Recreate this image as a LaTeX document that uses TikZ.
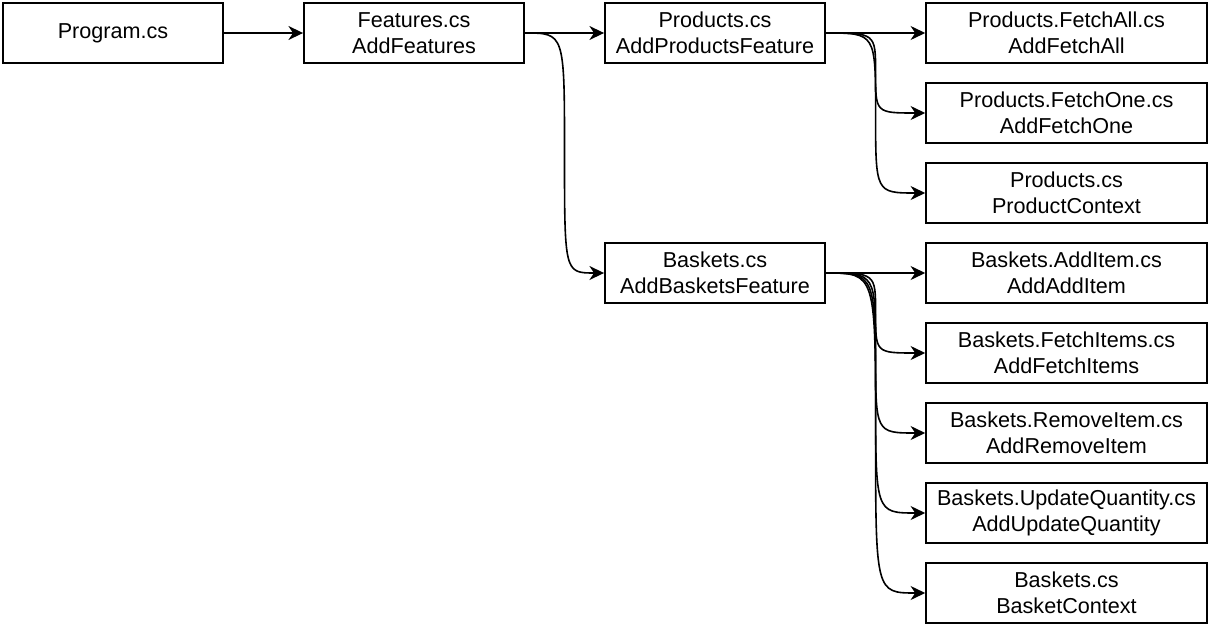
\documentclass[tikz,border=0pt]{standalone}
\usepackage{fontspec}
\setmainfont{Liberation Sans}
\usetikzlibrary{arrows.meta,calc}
\begin{document}
\begin{tikzpicture}[x=0.75pt, y=-0.75pt]
    \tikzstyle{box}=[draw, line width=1.4pt, minimum width=165pt, minimum height=45pt,
      inner sep=0pt, align=center, font=\fontsize{16.2}{19.4}\selectfont]
    \tikzstyle{wide}=[box, minimum width=210.5pt]
    \tikzstyle{link}=[line width=1.2pt, -{Stealth[length=11pt, width=10.5pt, inset=3.5pt]}]
    \tikzstyle{sweep}=[link, to path={let \p1=(\tikztostart), \p2=(\tikztotarget),
      \p3=($(\tikztostart)!0.5!(\tikztotarget)$) in
      .. controls (\x3,\y1) .. (\x3,\y3) .. controls (\x3,\y2) .. (\tikztotarget)}]
    \useasboundingbox (0,0) rectangle (1209,628);
    \node[box] (prog) at (113,33) {Program.cs};
    \node[box] (feat) at (414,33) {Features.cs\\AddFeatures};
    \node[box] (prod) at (715,33) {Products.cs\\AddProductsFeature};
    \node[box] (bask) at (715,273) {Baskets.cs\\AddBasketsFeature};
    \node[wide] (fall) at (1066.5,33) {Products.FetchAll.cs\\AddFetchAll};
    \node[wide] (fone) at (1066.5,113) {Products.FetchOne.cs\\AddFetchOne};
    \node[wide] (pctx) at (1066.5,193) {Products.cs\\ProductContext};
    \node[wide] (add) at (1066.5,273) {Baskets.AddItem.cs\\AddAddItem};
    \node[wide] (fitm) at (1066.5,353) {Baskets.FetchItems.cs\\AddFetchItems};
    \node[wide] (rem) at (1066.5,433) {Baskets.RemoveItem.cs\\AddRemoveItem};
    \node[wide] (upd) at (1066.5,513) {Baskets.UpdateQuantity.cs\\AddUpdateQuantity};
    \node[wide] (bctx) at (1066.5,593) {Baskets.cs\\BasketContext};
    \draw[link] (prog) -- (feat);
    \draw[link] (feat) -- (prod);
    \draw[sweep] (feat.east) to (bask.west);
    \draw[link] (prod) -- (fall);
    \draw[sweep] (prod.east) to (fone.west);
    \draw[sweep] (prod.east) to (pctx.west);
    \draw[link] (bask) -- (add);
    \draw[sweep] (bask.east) to (fitm.west);
    \draw[sweep] (bask.east) to (rem.west);
    \draw[sweep] (bask.east) to (upd.west);
    \draw[sweep] (bask.east) to (bctx.west);
  \end{tikzpicture}
\end{document}
